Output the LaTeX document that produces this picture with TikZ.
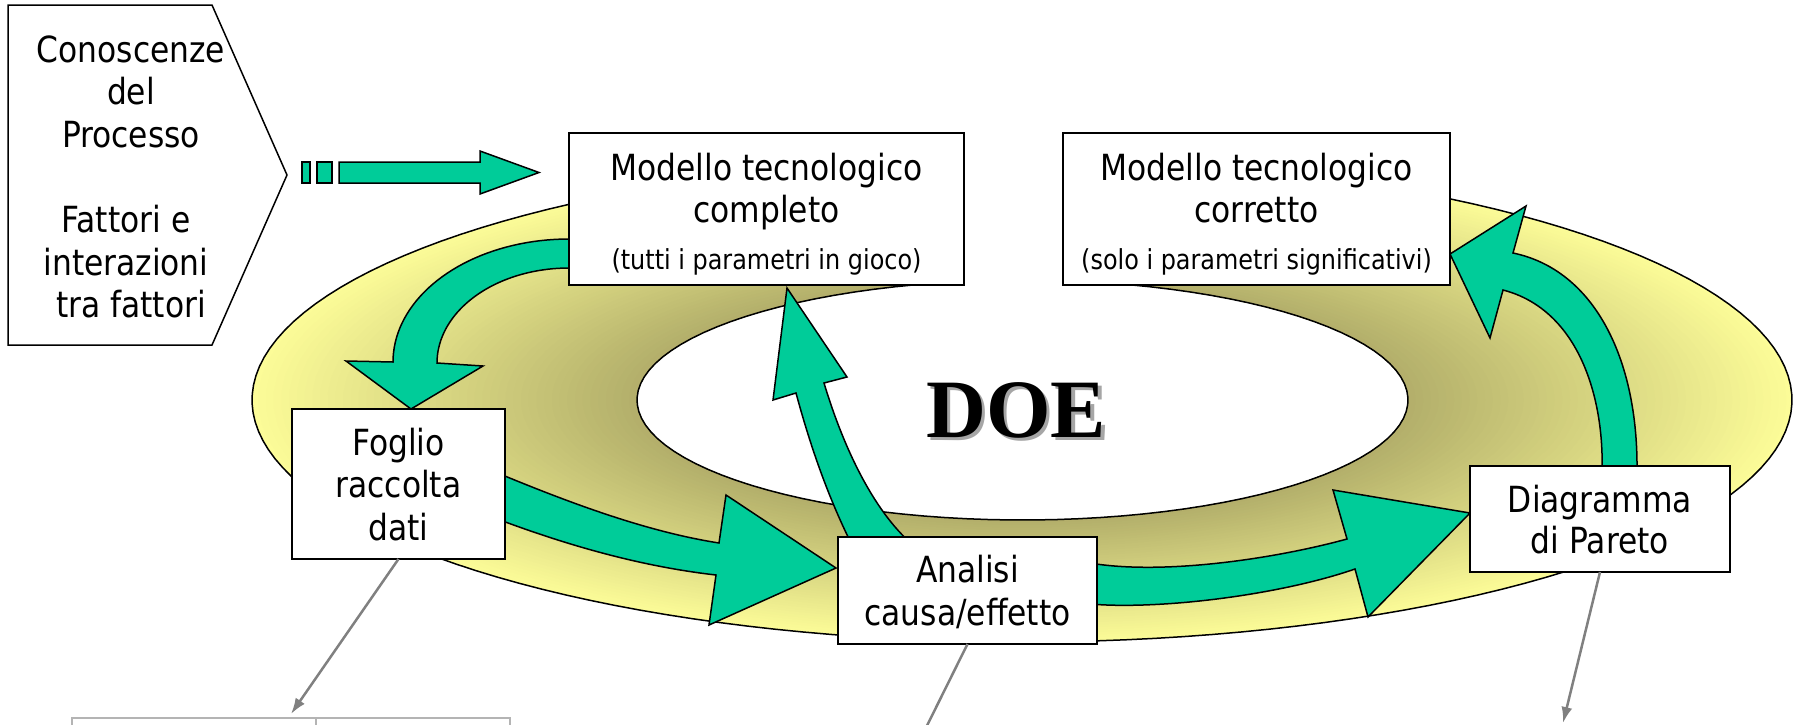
\documentclass[tikz,border=0pt]{standalone}
\usepackage{fontspec}
\usetikzlibrary{arrows.meta}
\newfontfamily\tah[FakeStretch=0.87]{DejaVu Sans}
\newfontfamily\doefont{Liberation Serif}
\definecolor{arrowgreen}{RGB}{0,204,153}
\definecolor{ringlight}{RGB}{252,252,152}
\definecolor{ringdark}{RGB}{178,174,106}
\definecolor{linegray}{RGB}{128,128,128}
\definecolor{tablegray}{RGB}{180,180,180}
\begin{document}
\begin{tikzpicture}[x=1pt,y=-1pt,
  box/.style={draw=black, line width=2pt, fill=white, inner sep=0pt, outer sep=0pt},
  txt/.style={font=\tah\fontsize{36}{43}\selectfont, inner sep=0pt, anchor=base},
  smalltxt/.style={font=\tah\fontsize{27.5}{30}\selectfont, inner sep=0pt, anchor=base},
  doe/.style={font=\doefont\bfseries\fontsize{83}{90}\selectfont, inner sep=0pt, anchor=base},
  greenarrow/.style={fill=arrowgreen, draw=black, line width=1.5pt, line join=miter},
  outline/.style={draw=black, line width=1.5pt},
  grayline/.style={draw=linegray, line width=2.5pt},
  grayarrow/.style={grayline, -{Latex[length=16pt,width=11pt]}},
]
\useasboundingbox (0,0) rectangle (1793,724);
\clip (0,0) rectangle (1793,724);

% ---- ring with gradient ----
\begin{scope}
  \clip plot[domain=286:614, samples=150] ({1022+770*cos(\x)},{400+242*sin(\x)})
     -- plot[domain=614:286, samples=100] ({1022.5+385.5*cos(\x)},{400+120*sin(\x)}) -- cycle;
  \foreach \i in {0,...,50}{
    \pgfmathsetmacro\rx{772-386.5*(\i/50)}
    \pgfmathsetmacro\ry{243-123*(\i/50)}
    \pgfmathtruncatemacro\p{2*\i}
    \fill[ringdark!\p!ringlight] plot[domain=0:360, samples=90] ({1022.25+\rx*cos(\x)},{400+\ry*sin(\x)}) -- cycle;
  }
\end{scope}
\draw[outline] plot[domain=286:614, samples=150] ({1022+770*cos(\x)},{400+242*sin(\x)});
\draw[outline] plot[domain=286:614, samples=100] ({1022.5+385.5*cos(\x)},{400+120*sin(\x)});

% ---- pentagon ----
\coordinate (pentip) at (287,175);
\draw[fill=white, line width=1.5pt] (8,5) -- (212,5) -- (pentip) -- (212,345) -- (8,345) -- cycle;
\node[txt] (p1) at (131,62) {Conoscenze};
\node[txt] (p2) at (131,104) {del};
\node[txt] (p3) at (131,147) {Processo};
\node[txt] (p4) at (126,232) {Fattori e};
\node[txt] (p5) at (126,275) {interazioni};
\node[txt] (p6) at (131,317) {tra fattori};

% ---- dashed block arrow ----
\draw[greenarrow] (302,162) rectangle (310,183);
\draw[greenarrow] (317,162) rectangle (332,183);
\draw[greenarrow] (339,162) -- (480,162) -- (480,151) -- (539,172.5) -- (480,194) -- (480,183) -- (339,183) -- cycle;

% ---- green curved arrows ----
% completo -> foglio
\draw[greenarrow] (580,239) -- plot[domain=270:180, samples=40] ({569+176*cos(\x)},{362+123*sin(\x)})
  -- (346,361) -- (411,409) -- (483,366) -- (437,363)
  -- plot[domain=180:270, samples=40] ({569+132*cos(\x)},{363+95*sin(\x)}) -- (580,268) -- cycle;
% foglio -> analisi
\draw[greenarrow] (500,474) .. controls (575,505) and (649,532) .. (719,543)
  -- (726,495) -- (836,568) -- (709,625) -- (716,575)
  .. controls (646,567) and (575,548) .. (500,520) -- cycle;
% analisi -> completo
\draw[greenarrow] (852,545) .. controls (827,495) and (809.5,443) .. (796,393)
  -- (773,400) -- (787,288) -- (847,377) -- (824,383)
  .. controls (842,443) and (872,510) .. (913,545) -- cycle;
% analisi -> pareto
\draw[greenarrow] (1090,563) .. controls (1160,575) and (1270,560) .. (1347,539)
  -- (1333,490) -- (1470,513) -- (1368,617) -- (1355,569)
  .. controls (1280,595) and (1160,610) .. (1090,604) -- cycle;
% pareto -> corretto
\draw[greenarrow] (1637,470) .. controls (1638,360) and (1595,270) .. (1513,253)
  -- (1526,206) -- (1450,254) -- (1490,338) -- (1503,290)
  .. controls (1580,310) and (1604,400) .. (1602,470) -- cycle;

% ---- boxes ----
\node[box, minimum width=395pt, minimum height=152pt] (mcompleto) at (766.5,209) {};
\node[box, minimum width=387pt, minimum height=152pt] (mcorretto) at (1256.5,209) {};
\node[box, minimum width=213pt, minimum height=150pt] (foglio) at (398.5,484) {};
\node[box, minimum width=259pt, minimum height=107pt] (analisi) at (967.5,590.5) {};
\node[box, minimum width=260pt, minimum height=106pt] (pareto) at (1600,519) {};

\node[txt] (a1) at (766.5,180) {Modello tecnologico};
\node[txt] (a2) at (766.5,222) {completo};
\node[smalltxt] (a3) at (766.5,269) {(tutti i parametri in gioco)};
\node[txt] (b1) at (1256.5,180) {Modello tecnologico};
\node[txt] (b2) at (1256.5,222) {corretto};
\node[smalltxt] (b3) at (1256.5,269) {(solo i parametri significativi)};
\node[txt] (f1) at (398.5,455) {Foglio};
\node[txt] (f2) at (398.5,497) {raccolta};
\node[txt] (f3) at (398.5,540) {dati};
\node[txt] (c1) at (967.5,582) {Analisi};
\node[txt] (c2) at (967.5,625) {causa/effetto};
\node[txt] (d1) at (1600,512) {Diagramma};
\node[txt] (d2) at (1600,553) {di Pareto};

% ---- DOE ----
\node[doe, text=black!35] (doeshadow) at (1019.5,440) {DOE};
\node[doe] (doe) at (1016,437) {DOE};

% ---- gray connectors and table ----
\coordinate (fogliotab) at (291,714);
\coordinate (analisiout) at (905,770);
\coordinate (paretoout) at (1563,723);
\draw[grayarrow] (foglio.south) -- (fogliotab);
\draw[grayline] (analisi.south) -- (analisiout);
\draw[grayarrow] (pareto.south) -- (paretoout);
\draw[draw=tablegray, line width=2.5pt] (72,730) -- (72,718) -- (510,718) -- (510,730);
\draw[draw=tablegray, line width=1.2pt] (316,718) -- (316,730);
\end{tikzpicture}
\end{document}
